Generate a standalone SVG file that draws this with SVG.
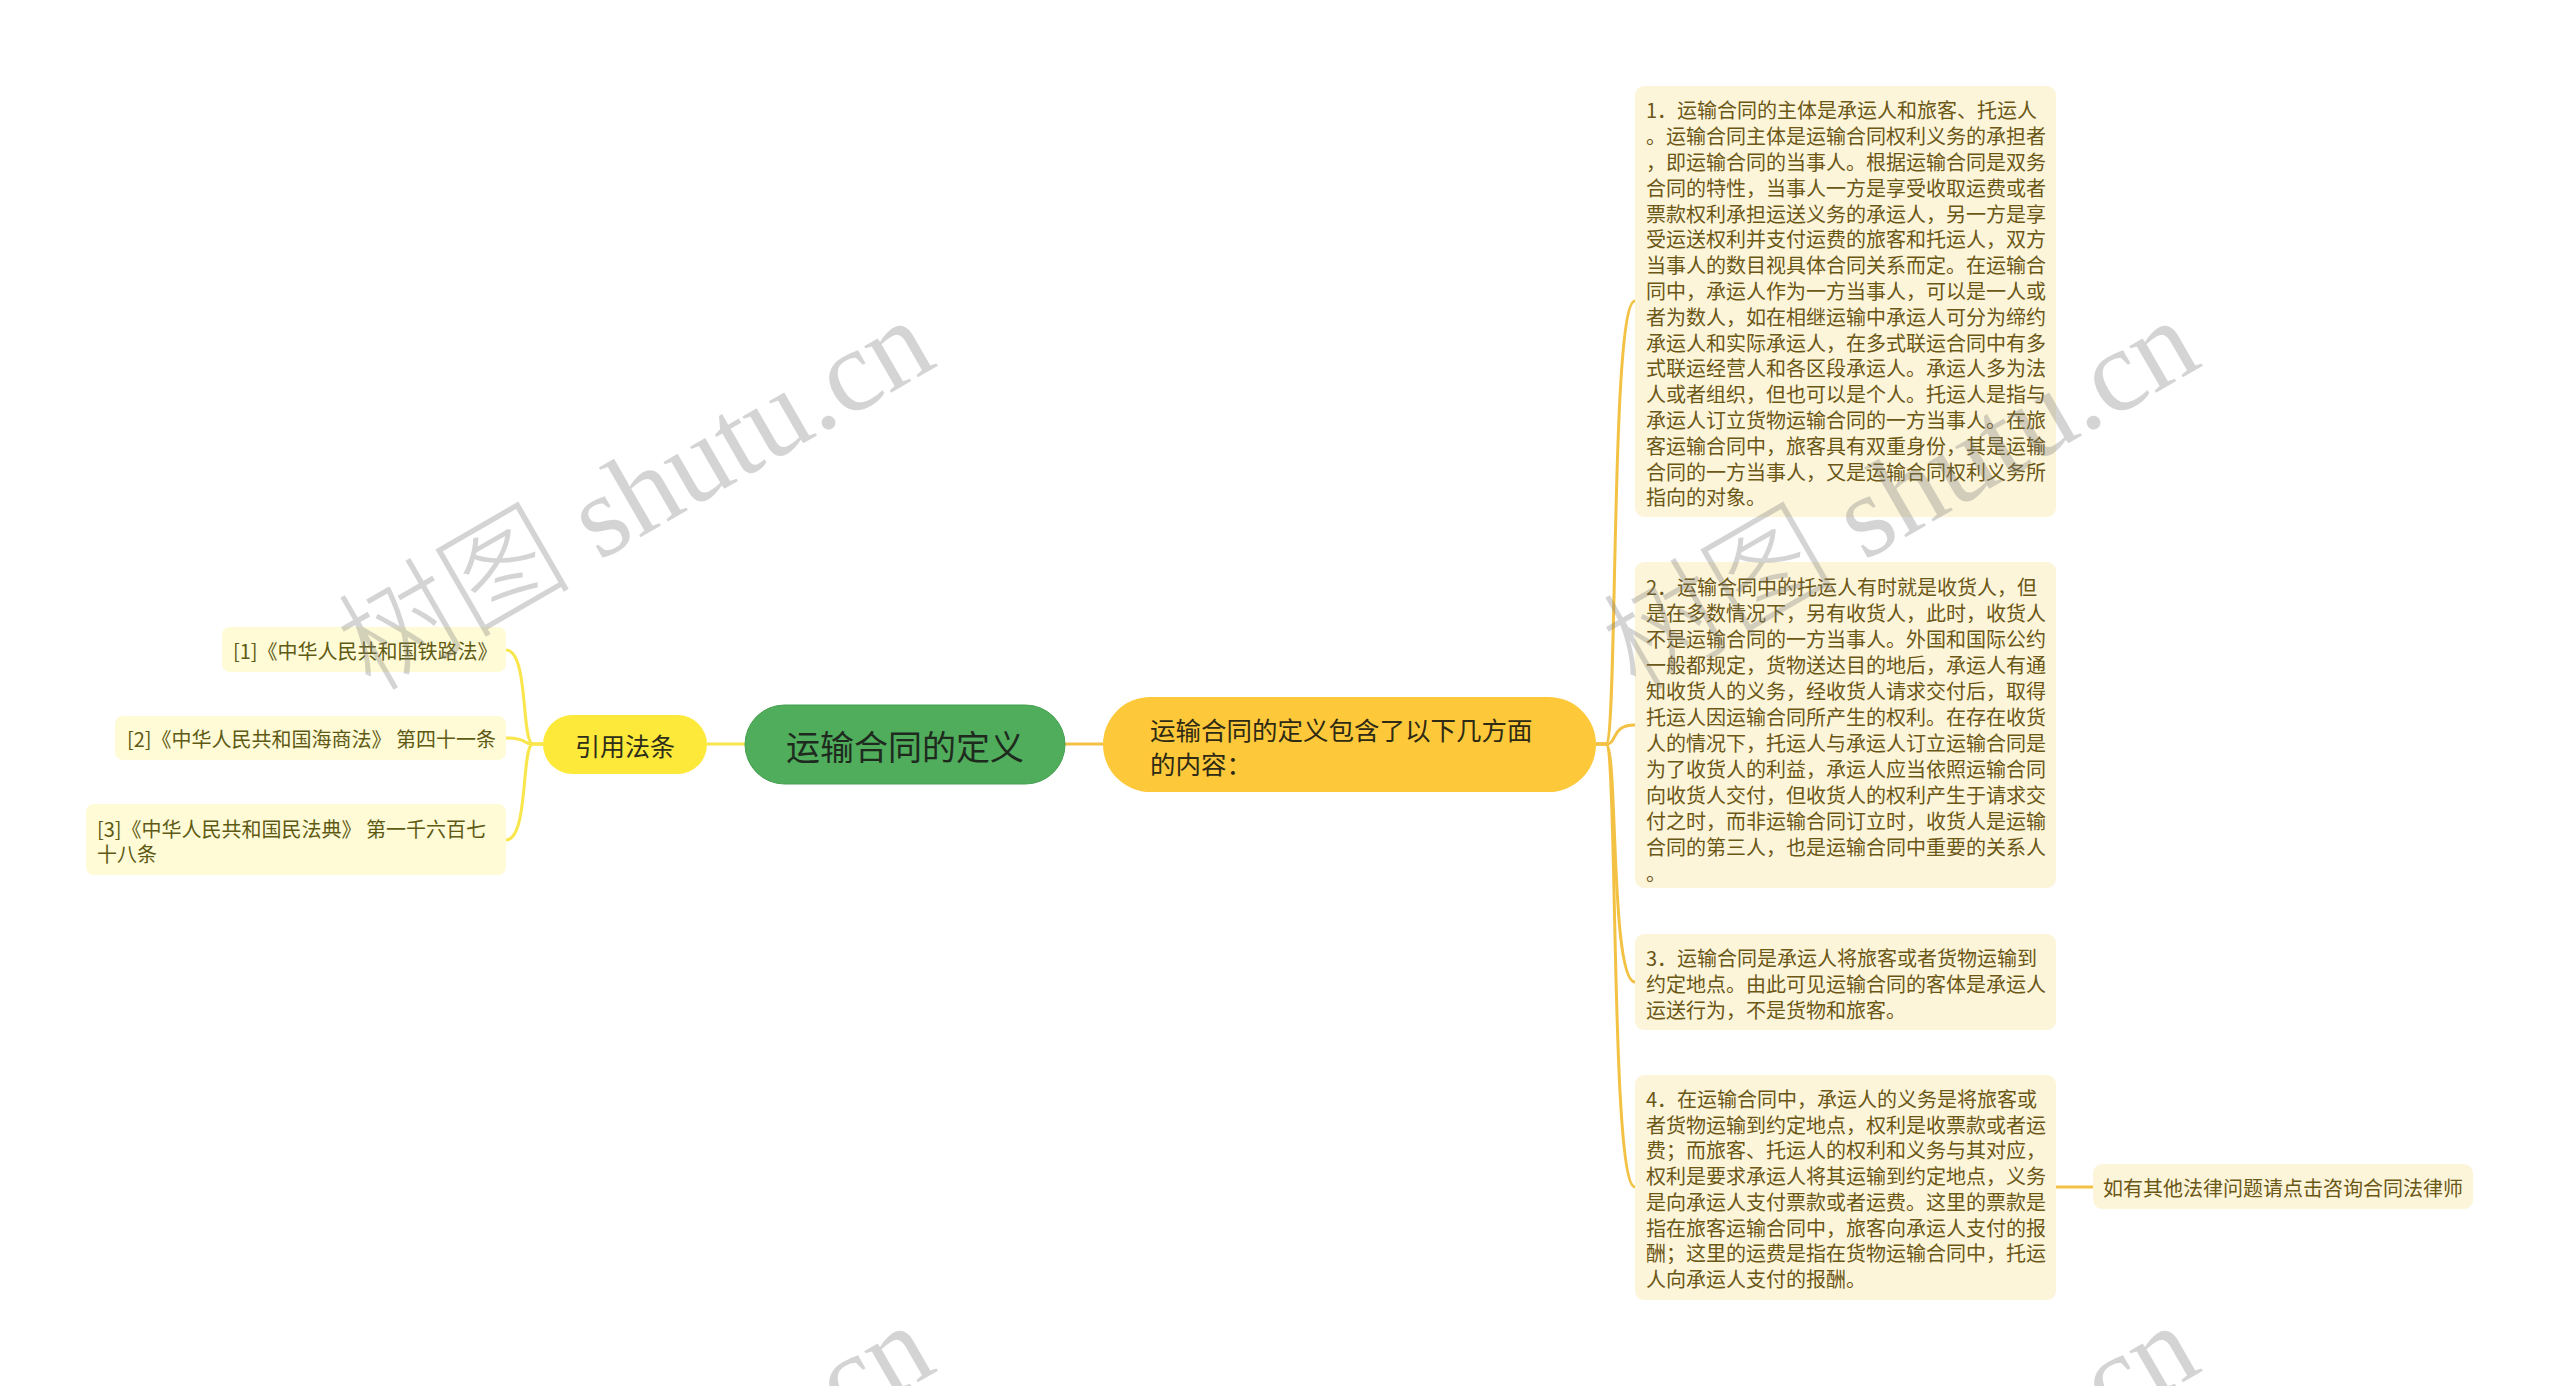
<svg xmlns="http://www.w3.org/2000/svg" xmlns:xlink="http://www.w3.org/1999/xlink" width="2560" height="1386" viewBox="0 0 2560 1386">
<style>
.cjk{font-family:"Noto Sans CJK SC","Liberation Sans",sans-serif;}
.detail{font-size:20px;fill:#6b5716;}
.ref{font-size:20px;fill:#5e5a14;}
.rbox{fill:#fdf5da;}
.lbox{fill:#fffbd7;}
.gold{fill:none;stroke:#f3c244;stroke-width:3;}
.yel{fill:none;stroke:#f9e64c;stroke-width:3;}
.wm{font-family:"Liberation Serif","Noto Sans CJK SC",serif;font-size:117px;font-weight:300;fill:#7a7a7a;fill-opacity:0.32;}
</style>
<defs>
<text id="wm" class="wm">树图 shutu.cn</text>
</defs>
<rect width="2560" height="1386" fill="#ffffff"/>
<g id="connectors">
<path class="yel" d="M745,744 L707,744"/>
<path class="gold" d="M1065,744 L1103,744"/>
<path class="yel" d="M543,744 L533,744 C521,744 529,650 506,650"/>
<path class="yel" d="M543,744 L533,744 C521,744 529,738 506,738"/>
<path class="yel" d="M543,744 L533,744 C521,744 529,840 506,840"/>
<path class="gold" d="M1596,744 L1606,744 C1618,744 1610,301 1635,301"/>
<path class="gold" d="M1596,744 L1606,744 C1618,744 1610,725 1635,725"/>
<path class="gold" d="M1596,744 L1606,744 C1618,744 1610,982 1635,982"/>
<path class="gold" d="M1596,744 L1606,744 C1618,744 1610,1187 1635,1187"/>
<path class="gold" d="M2056,1187 L2093,1187"/>
</g>
<g id="root">
<rect x="745" y="705" width="320" height="79" rx="39.5" fill="#4fad5b" stroke="#45a050" stroke-width="1"/>
<text class="cjk" x="905" y="745" font-size="34" fill="#1f2a1f" text-anchor="middle" dominant-baseline="central">运输合同的定义</text>
</g>
<g id="cite">
<rect x="543" y="715" width="164" height="59" rx="29.5" fill="#fde93a"/>
<text class="cjk" x="625" y="745" font-size="25" fill="#2e2e1a" text-anchor="middle" dominant-baseline="central">引用法条</text>
</g>
<g id="cite1">
<rect class="lbox" x="222" y="627" width="284" height="45" rx="8"/>
<text class="cjk ref" x="233" y="650" dominant-baseline="central">[1]《中华人民共和国铁路法》</text>
</g>
<g id="cite2">
<rect class="lbox" x="115" y="716" width="391" height="44" rx="8"/>
<text class="cjk ref" x="127" y="738" dominant-baseline="central">[2]《中华人民共和国海商法》 第四十一条</text>
</g>
<g id="cite3">
<rect class="lbox" x="86" y="804" width="420" height="71" rx="8"/>
<text class="cjk ref" dominant-baseline="central"><tspan x="97" y="828">[3]《中华人民共和国民法典》 第一千六百七</tspan><tspan x="97" y="853">十八条</tspan></text>
</g>
<g id="summary">
<rect x="1103" y="697" width="493" height="95" rx="47.5" fill="#fdc93b"/>
<text class="cjk" font-size="25.5" fill="#2e2a14" dominant-baseline="central"><tspan x="1150" y="728">运输合同的定义包含了以下几方面</tspan><tspan x="1150" y="762">的内容：</tspan></text>
</g>
<g id="point1">
<rect class="rbox" x="1635" y="86" width="421" height="431" rx="9"/>
<text class="cjk detail" dominant-baseline="central">
<tspan x="1646" y="109.3">1．运输合同的主体是承运人和旅客、托运人</tspan>
<tspan x="1646" y="135.1">。运输合同主体是运输合同权利义务的承担者</tspan>
<tspan x="1646" y="160.9">，即运输合同的当事人。根据运输合同是双务</tspan>
<tspan x="1646" y="186.7">合同的特性，当事人一方是享受收取运费或者</tspan>
<tspan x="1646" y="212.5">票款权利承担运送义务的承运人，另一方是享</tspan>
<tspan x="1646" y="238.3">受运送权利并支付运费的旅客和托运人，双方</tspan>
<tspan x="1646" y="264.1">当事人的数目视具体合同关系而定。在运输合</tspan>
<tspan x="1646" y="289.9">同中，承运人作为一方当事人，可以是一人或</tspan>
<tspan x="1646" y="315.7">者为数人，如在相继运输中承运人可分为缔约</tspan>
<tspan x="1646" y="341.5">承运人和实际承运人，在多式联运合同中有多</tspan>
<tspan x="1646" y="367.3">式联运经营人和各区段承运人。承运人多为法</tspan>
<tspan x="1646" y="393.1">人或者组织，但也可以是个人。托运人是指与</tspan>
<tspan x="1646" y="418.9">承运人订立货物运输合同的一方当事人。在旅</tspan>
<tspan x="1646" y="444.7">客运输合同中，旅客具有双重身份，其是运输</tspan>
<tspan x="1646" y="470.5">合同的一方当事人，又是运输合同权利义务所</tspan>
<tspan x="1646" y="496.3">指向的对象。</tspan>
</text>
</g>
<g id="point2">
<rect class="rbox" x="1635" y="562" width="421" height="326" rx="9"/>
<text class="cjk detail" dominant-baseline="central">
<tspan x="1646" y="585.5">2．运输合同中的托运人有时就是收货人，但</tspan>
<tspan x="1646" y="611.5">是在多数情况下，另有收货人，此时，收货人</tspan>
<tspan x="1646" y="637.5">不是运输合同的一方当事人。外国和国际公约</tspan>
<tspan x="1646" y="663.5">一般都规定，货物送达目的地后，承运人有通</tspan>
<tspan x="1646" y="689.5">知收货人的义务，经收货人请求交付后，取得</tspan>
<tspan x="1646" y="715.5">托运人因运输合同所产生的权利。在存在收货</tspan>
<tspan x="1646" y="741.5">人的情况下，托运人与承运人订立运输合同是</tspan>
<tspan x="1646" y="767.5">为了收货人的利益，承运人应当依照运输合同</tspan>
<tspan x="1646" y="793.5">向收货人交付，但收货人的权利产生于请求交</tspan>
<tspan x="1646" y="819.5">付之时，而非运输合同订立时，收货人是运输</tspan>
<tspan x="1646" y="845.5">合同的第三人，也是运输合同中重要的关系人</tspan>
<tspan x="1646" y="871.5">。</tspan>
</text>
</g>
<g id="point3">
<rect class="rbox" x="1635" y="934" width="421" height="96" rx="9"/>
<text class="cjk detail" dominant-baseline="central">
<tspan x="1646" y="957">3．运输合同是承运人将旅客或者货物运输到</tspan>
<tspan x="1646" y="983">约定地点。由此可见运输合同的客体是承运人</tspan>
<tspan x="1646" y="1009">运送行为，不是货物和旅客。</tspan>
</text>
</g>
<g id="point4">
<rect class="rbox" x="1635" y="1075" width="421" height="225" rx="9"/>
<text class="cjk detail" dominant-baseline="central">
<tspan x="1646" y="1098">4．在运输合同中，承运人的义务是将旅客或</tspan>
<tspan x="1646" y="1123.7">者货物运输到约定地点，权利是收票款或者运</tspan>
<tspan x="1646" y="1149.4">费；而旅客、托运人的权利和义务与其对应，</tspan>
<tspan x="1646" y="1175.1">权利是要求承运人将其运输到约定地点，义务</tspan>
<tspan x="1646" y="1200.8">是向承运人支付票款或者运费。这里的票款是</tspan>
<tspan x="1646" y="1226.5">指在旅客运输合同中，旅客向承运人支付的报</tspan>
<tspan x="1646" y="1252.2">酬；这里的运费是指在货物运输合同中，托运</tspan>
<tspan x="1646" y="1277.9">人向承运人支付的报酬。</tspan>
</text>
</g>
<g id="consult">
<rect class="rbox" x="2093" y="1164" width="380" height="45" rx="9"/>
<text class="cjk detail" x="2103" y="1187" dominant-baseline="central">如有其他法律问题请点击咨询合同法律师</text>
</g>
<g id="watermarks">
<use xlink:href="#wm" transform="translate(371,693) rotate(-30)"/>
<use xlink:href="#wm" transform="translate(1636,693) rotate(-30)"/>
<use xlink:href="#wm" transform="translate(371,1698) rotate(-30)"/>
<use xlink:href="#wm" transform="translate(1636,1698) rotate(-30)"/>
</g>
</svg>
